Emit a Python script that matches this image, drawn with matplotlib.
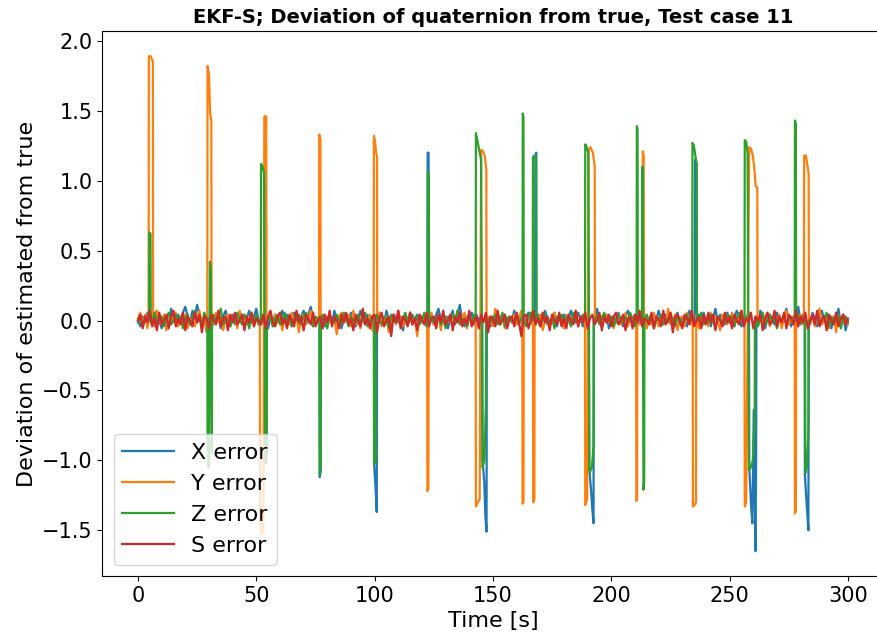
import numpy as np
import matplotlib
matplotlib.use("Agg")
import matplotlib.pyplot as plt

# ---- estimator error, quaternion components, test case 11 ----
# background noise sampled once per second, t = 0..300 s
T_GRID = np.arange(0, 301)
NOISE_UNIT = 0.014

X_NOISE = [
    0, -3, 2, -1, 4, 1, -2, 3, 5, 0, -4, 2, 1, -3, 6, 2, -1, 3, 0, 4,
    7, 2, -2, 5, 1, 8, 3, -1, 2, -3, 1, 4, -2, 0, 3, -4, 2, 5, 1, -1,
    3, -2, 0, 4, 2, -3, 1, 5, -1, 2, 6, 0, -2, 3, 1, -4, 2, 0, 3, -1,
    2, 5, -1, 3, 0, -3, 4, 1, -2, 2, 5, -1, 3, 7, 1, -2, 0, 4, 2, -3,
    1, 3, -2, 5, 0, 2, -4, 1, 3, -1, 4, 2, -3, 0, 5, 1, -2, 3, -1, 2,
    4, -3, 1, 2, -2, 5, 0, -4, 3, 1, -1, 2, -5, 3, 0, 4, -2, 1, 3, -1,
    2, 0, -3, 4, 1, -2, 3, 6, 0, -1, 2, -4, 1, 5, -2, 3, 8, 0, -3, 2,
    1, 4, -2, 3, 0, 2, -1, 5, 1, -3, 2, 0, 4, -2, 1, 3, -1, 2, 0, 5,
    -2, 1, 3, -1, 0, 4, 2, -3, 1, 3, -2, 0, 5, 1, -1, 2, 4, -3, 1, 0,
    3, -2, 2, 5, 0, -1, 4, 1, -3, 2, 0, 3, -2, 1, 6, -1, 2, 0, 3, -4,
    1, 2, -1, 4, 0, -3, 2, 5, 1, -2, 3, 0, -1, 4, 2, -3, 1, 3, -2, 0,
    5, 1, -2, 3, 0, 2, -4, 1, 4, -1, 2, 0, -3, 5, 2, -1, 1, 3, -2, 4,
    0, 2, -3, 1, 6, -1, 3, 0, -2, 4, 1, -1, 2, 5, 0, -3, 2, 1, 4, -2,
    3, 0, -1, 5, 2, -4, 1, 3, 0, -2, 4, 1, -1, 2, 6, 0, -3, 2, 1, 7,
    -1, 3, 0, 2, -2, 4, 1, -3, 2, 5, 0, -1, 3, -4, 2, 1, 6, -2, 3, -5,
    0,
]
Y_NOISE = [
    1, 4, -2, 3, -4, 2, 0, -3, 5, 1, -2, 3, -5, 0, 2, -1, 4, -3, 1, -2,
    3, -4, 1, 0, -3, 2, 5, -2, 1, -6, 3, 0, -2, 4, -1, 2, -5, 1, 3, -3,
    0, 2, -4, 5, -1, 3, -2, 0, 4, -3, 1, -2, 6, 0, -4, 2, 1, -3, 3, -1,
    2, -5, 3, 0, -2, 4, -1, 2, -6, 1, 3, -2, 0, 5, -3, 1, -1, 3, -4, 2,
    0, 3, -2, 1, -7, 2, 4, -1, 0, 3, -3, 5, -2, 1, -4, 2, 0, -1, 3, -5,
    2, -1, 4, -3, 0, 2, -6, 1, 3, -2, 5, 0, -3, 2, -1, 4, -2, 1, -8, 3,
    0, 2, -3, 1, 4, -2, 0, 3, -5, 2, 1, -1, 3, -3, 0, 5, -2, 1, 4, -4,
    2, -1, 0, 3, -6, 1, 4, -2, 2, 0, -3, 6, 1, -2, 3, -4, 0, 2, -1, 3,
    -2, 1, 5, -3, 0, 2, -1, 4, -2, 1, 3, -5, 0, 2, -3, 1, 4, -1, 0, 2,
    -4, 3, 1, -2, 0, 5, -3, 2, -1, 3, 0, -2, 4, -6, 1, 2, -3, 0, 3, -1,
    2, -4, 1, 3, -2, 0, 4, -3, 1, 2, -1, 5, -2, 0, 3, -4, 1, -2, 4, 0,
    -3, 2, 1, -1, 6, -2, 0, 3, -5, 1, 2, -3, 4, 0, -2, 1, 3, -4, 2, 0,
    1, -3, 4, -1, 2, 0, -5, 3, 1, -2, 0, 4, -3, 2, -1, 5, -2, 0, 3, -1,
    -7, 2, 0, 3, -2, 1, 4, -3, 0, 2, -1, 3, -4, 1, 5, -2, 0, 2, -3, 1,
    3, -2, 0, 4, -1, 2, -3, 1, 6, -2, 0, 3, -4, 1, 2, -6, 3, 0, -1, 2,
    -2,
]
Z_NOISE = [
    -1, 2, -3, 1, 0, 3, -2, 4, -1, 0, 2, -3, 1, 4, -2, 0, 3, -1, 2, -4,
    1, 3, -2, 0, 5, -1, 2, -3, 4, 1, -2, 0, 3, -1, 2, 6, -2, 1, 0, -3,
    2, -1, 4, 0, -2, 3, 1, -4, 2, 0, 3, -2, 1, 4, -1, 0, 2, -3, 1, 3,
    -2, 0, 4, -1, 2, -3, 1, 0, 3, -2, 2, 4, -1, 0, -3, 2, 1, -2, 3, 0,
    -4, 2, 1, -1, 3, 0, -2, 4, 1, -3, 2, 0, -1, 3, -2, 1, 4, -3, 0, 2,
    -1, 3, 0, -2, 2, 1, -4, 3, 0, -1, 2, -3, 1, 4, -2, 0, 3, -1, 2, -2,
    0, 4, -3, 1, 2, -1, 0, 3, -2, 1, -4, 2, 0, 3, -1, 5, -2, 1, 0, -3,
    2, -1, 3, 0, -2, 1, 4, -3, 0, 2, -1, 3, -2, 0, 4, -3, 1, 2, -1, 0,
    3, -2, 1, 0, -3, 2, 4, -1, 0, 2, -3, 1, 3, -2, 0, 1, -4, 2, 0, 3,
    -1, 2, 0, -3, 4, 1, -2, 0, 3, -1, 2, -4, 1, 0, 3, -2, 1, 4, -1, 0,
    2, -3, 1, 3, 0, -2, 2, -1, 4, 0, -3, 1, 2, -2, 0, 3, -1, 2, -4, 1,
    0, 3, -2, 1, -1, 4, 0, -3, 2, 1, -2, 0, 3, -1, 2, -3, 1, 0, 4, -2,
    1, -1, 3, 0, -4, 2, 1, -2, 0, 3, -1, 2, -3, 1, 4, 0, -2, 1, 3, -1,
    0, 2, -3, 1, 4, -2, 0, 3, -1, 2, -4, 1, 0, 3, -2, 1, 2, -1, 0, 3,
    -2, 1, 4, -3, 0, 2, -1, 3, -2, 0, 1, 4, -3, 2, 0, -1, 3, -4, 1, 2,
    -1,
]
S_NOISE = [
    0, 3, -4, 2, -1, 5, -3, 1, -5, 4, -2, 0, 3, -4, 2, 5, -3, 1, -2, 4,
    -5, 2, 0, -3, 4, -1, 3, -6, 2, 1, -4, 3, 0, -2, 5, -3, 1, 2, -5, 3,
    -1, 4, -2, 0, 3, -5, 2, -1, 4, -3, 1, 0, -2, 3, -4, 2, 5, -1, -3, 2,
    4, -2, 1, -4, 3, 0, -3, 5, -1, 2, -5, 3, 1, -2, 4, -3, 0, 2, -4, 3,
    -1, 5, -3, 2, 0, -4, 3, -1, 4, -2, 1, -5, 3, 0, -3, 6, -2, 1, -4, 2,
    3, -6, 1, 4, -3, 0, 2, -8, 3, -1, 5, -4, 2, 0, -3, 4, -2, 1, -5, 3,
    0, -2, 4, -3, 1, 2, -4, 3, -1, 5, -2, 0, 3, -5, 2, -1, 4, -3, 1, -2,
    5, -3, 0, 2, -4, 3, -1, 4, -6, 2, 1, -3, 5, -2, 0, 3, -4, 1, 2, -3,
    4, -1, -8, 2, 3, -4, 0, 5, -2, 1, -3, 4, -1, 2, -5, 3, 0, -2, 4, -3,
    1, -4, 3, 0, -2, 5, -3, 2, -1, 4, -4, 1, 3, -2, 0, 4, -5, 2, -1, 3,
    -3, 2, 4, -2, 0, 3, -5, 1, 2, -4, 3, -1, 5, -3, 1, 0, -2, 4, -4, 2,
    1, -3, 5, -2, 0, 4, -6, 2, 3, -1, -4, 3, 1, -2, 5, -3, 0, 2, -4, 3,
    -2, 4, -1, 3, -5, 2, 0, -3, 4, -1, 2, -4, 3, 0, -2, 5, -3, 1, -1, 4,
    -4, 2, 0, 3, -5, 1, 4, -2, 0, 5, -3, 2, -1, 4, -4, 3, 1, -2, 5, -3,
    2, -1, 4, -4, 0, 3, -2, 5, -3, 1, 2, -5, 3, 0, -2, 4, -3, 1, 3, -2,
    1,
]

# divergence bursts: (time [s], error) samples for each excursion
X_SPIKES = [
    [(53.6, -0.6), (54.0, -1.02), (54.3, -0.9)],
    [(76.8, -1.12), (77.2, -1.08)],
    [(99.8, -1.03), (100.4, -1.2), (100.9, -1.37)],
    [(122.4, 1.20), (122.8, 1.20)],
    [(145.6, -1.0), (146.3, -1.15), (146.8, -1.4), (147.3, -1.51)],
    [(167.9, 1.18), (168.3, 1.20)],
    [(190.6, -1.05), (191.4, -1.2), (192.0, -1.35), (192.5, -1.45)],
    [(235.4, 1.15), (236.0, 1.13)],
    [(258.3, -1.05), (259.0, -1.3), (259.6, -1.45), (260.2, -0.64),
     (260.9, -1.65), (261.2, -1.0)],
    [(281.8, -1.1), (282.5, -1.3), (283.3, -1.50)],
]
Y_SPIKES = [
    [(4.6, 1.89), (5.3, 1.89), (5.9, 1.87), (6.3, 1.85)],
    [(29.4, 1.82), (30.0, 1.76), (30.5, 1.48), (31.0, 1.43)],
    [(51.6, -1.45), (52.3, -1.53), (53.0, -1.5), (53.4, 1.46), (54.2, 1.46)],
    [(76.6, 1.33), (77.1, 1.30)],
    [(99.7, 1.32), (100.2, 1.28), (100.6, 1.2), (101.0, 1.17)],
    [(122.3, -1.22), (122.7, -1.20)],
    [(142.8, -1.33), (143.6, -1.3), (144.4, -1.28), (145.0, 1.22),
     (145.8, 1.21), (146.5, 1.18), (147.2, 1.08)],
    [(162.5, -1.31), (162.9, -1.30)],
    [(167.0, -1.30), (167.5, -1.28)],
    [(189.0, -1.32), (189.8, -1.28), (190.4, 1.22), (191.2, 1.24),
     (192.2, 1.2), (193.0, 1.1)],
    [(210.6, -1.29), (210.9, -1.28)],
    [(213.3, 1.21), (213.7, 1.18)],
    [(234.5, -1.33), (235.2, -1.32), (235.8, -1.30)],
    [(256.4, -1.33), (257.0, -1.3), (258.3, 1.24), (259.0, 1.23),
     (259.8, 1.18), (260.4, 1.1), (261.0, 0.96), (261.7, 0.95)],
    [(277.6, -1.38), (278.0, -1.36)],
    [(281.5, 1.18), (282.2, 1.18), (282.8, 1.12), (283.4, 1.05)],
]
Z_SPIKES = [
    [(4.8, 0.63), (5.3, 0.62)],
    [(29.4, -0.9), (29.9, -1.05), (30.4, 0.42), (30.8, 0.35), (31.2, -0.95)],
    [(52.0, 1.12), (52.7, 1.10), (53.3, 1.05), (53.8, -1.0), (54.4, -0.95)],
    [(76.8, -1.10), (77.2, -1.05)],
    [(99.8, -1.03), (100.5, -1.0)],
    [(122.5, 1.06), (122.9, 1.05)],
    [(142.8, 1.34), (143.5, 1.28), (144.2, 1.22), (145.0, 1.15),
     (145.6, -1.05), (146.4, -1.0), (147.0, -0.6)],
    [(162.6, 1.48), (162.9, 1.45)],
    [(166.9, 1.17), (167.6, 1.18), (168.2, 1.15)],
    [(189.0, 1.26), (189.6, 1.24), (190.3, 1.2), (190.8, -1.09),
     (191.8, -1.05), (192.5, -0.9)],
    [(210.8, 1.39), (211.1, 1.37)],
    [(213.2, 1.10), (213.6, -1.21), (213.9, -1.15)],
    [(234.3, 1.27), (234.9, 1.25), (235.5, 1.18), (236.1, 1.12)],
    [(256.4, 1.29), (257.0, 1.28), (257.6, 1.2), (258.2, -1.07),
     (259.0, -1.05), (259.8, -1.0), (260.6, -0.7)],
    [(277.6, 1.43), (278.0, 1.41)],
    [(282.0, -1.09), (282.7, -1.05), (283.3, -0.8)],
]
S_SPIKES = []

LABELS = ["X error", "Y error", "Z error", "S error"]
EDGE = 0.1   # bursts start/stop from the baseline within one sample


def build(noise, spikes):
    """noise samples on the 1 s grid, with the burst samples spliced in"""
    t = T_GRID.astype(float)
    v = np.asarray(noise, float) * NOISE_UNIT
    keep = np.ones(len(t), bool)
    bt, bv = [], []
    for ev in spikes:
        et = [p[0] for p in ev]
        keep &= ~((t >= min(et) - EDGE) & (t <= max(et) + EDGE))
        bt += [min(et) - EDGE] + et + [max(et) + EDGE]
        bv += [0.0] + [p[1] for p in ev] + [0.0]
    tt = np.concatenate([t[keep], bt])
    vv = np.concatenate([v[keep], bv])
    order = np.argsort(tt)
    return tt[order], vv[order]


fig = plt.figure(figsize=(8.78, 6.37), dpi=100)
ax = fig.add_axes([0.1167, 0.0958, 0.8895, 0.8548])

for noise, spikes, lab in zip([X_NOISE, Y_NOISE, Z_NOISE, S_NOISE],
                              [X_SPIKES, Y_SPIKES, Z_SPIKES, S_SPIKES],
                              LABELS):
    tt, vv = build(noise, spikes)
    ax.plot(tt, vv, lw=1.6, label=lab)

ax.set_title("EKF-S; Deviation of quaternion from true, Test case 11",
             fontsize=14, fontweight="bold")
ax.set_xlabel("Time [s]", fontsize=16)
ax.set_ylabel("Deviation of estimated from true", fontsize=16)
ax.tick_params(labelsize=15)
ax.legend(loc="lower left", fontsize=16, handlelength=2.3)

fig.savefig("out.png", dpi=100)
